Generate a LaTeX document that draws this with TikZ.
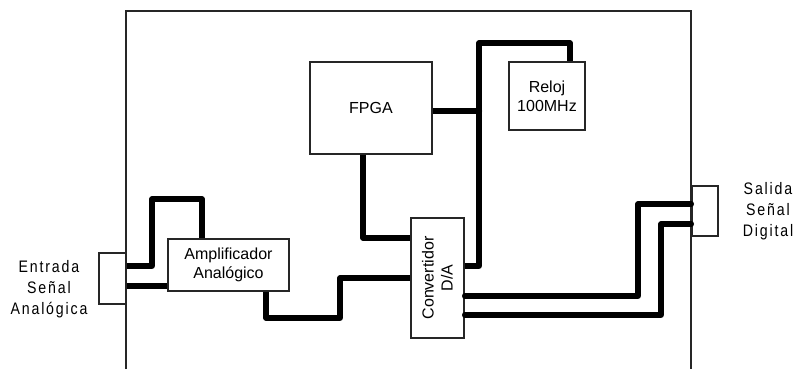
\documentclass[tikz,border=0pt]{standalone}
\usepackage{fontspec}
\setmainfont{Liberation Sans}
\newfontfamily\spacedfont[LetterSpace=11,FakeStretch=0.85]{Liberation Sans}
\usetikzlibrary{shadows}
\begin{document}
\begin{tikzpicture}[x=0.75pt,y=-0.75pt,
  box/.style={draw=black!85, line width=0.8pt, fill=white, inner sep=0pt, align=center,
    font=\fontsize{12pt}{14.25pt}\selectfont,
    drop shadow={shadow xshift=0.9pt, shadow yshift=-0.9pt, opacity=0.25, fill=black}},
  wire/.style={line width=3.8pt, line join=round, line cap=butt},
  wireend/.style={wire, line cap=round},
  frame/.style={line width=0.9pt, draw=black!85},
  sidelabel/.style={align=center, font=\spacedfont\fontsize{12.5pt}{15.75pt}\selectfont}]
\useasboundingbox (0,0) rectangle (794,369);
% outer frame
\draw[frame] (126,369) -- (126,11) -- (691,11) -- (691,369);
% boxes
\node[box, minimum width=27*0.75pt, minimum height=51*0.75pt] (ent) at (112.5,278.5) {};
\node[box, minimum width=121*0.75pt, minimum height=52*0.75pt] (amp) at (228.5,265) {Amplificador\\Analógico};
\node[box, minimum width=122*0.75pt, minimum height=92*0.75pt] (fpga) at (371,108) {FPGA};
\node[box, minimum width=76*0.75pt, minimum height=68*0.75pt] (reloj) at (547,96) {Reloj\\100MHz};
\node[box, minimum width=53*0.75pt, minimum height=120*0.75pt] (conv) at (437.5,278) {};
\node[rotate=90, align=center, font=\fontsize{12pt}{14.25pt}\selectfont] (convtxt) at (conv.center) {Convertidor\\D/A};
\node[box, minimum width=26*0.75pt, minimum height=50*0.75pt] (sal) at (705,211) {};
% side labels
\node[sidelabel] (enttxt) at (49,289) {Entrada\\Señal\\Analógica};
\node[sidelabel] (saltxt) at (768,211) {Salida\\Señal\\Digital};
% wires
\draw[wire] (ent.east |- 0,266) -| (152,199) -| (amp.north -| 202,0);
\draw[wire] (ent.east |- 0,286) -- (amp.west |- 0,286);
\draw[wire] (amp.south -| 266,0) |- (340,318) |- (conv.west |- 0,278);
\draw[wire] (fpga.south -| 363,0) |- (conv.west |- 0,238);
\coordinate (junc) at (479,111);
\draw[wire] (fpga.east |- junc) -- (junc);
\draw[wire] (conv.east |- 0,266) -| (479,43) -| (reloj.north -| 570,0);
\fill (junc) circle (2.4pt);
\draw[wireend] (conv.east |- 0,296) -| (638,204) -- (sal.west |- 0,204);
\draw[wireend] (conv.east |- 0,315) -| (661,224) -- (sal.west |- 0,224);
\end{tikzpicture}
\end{document}
